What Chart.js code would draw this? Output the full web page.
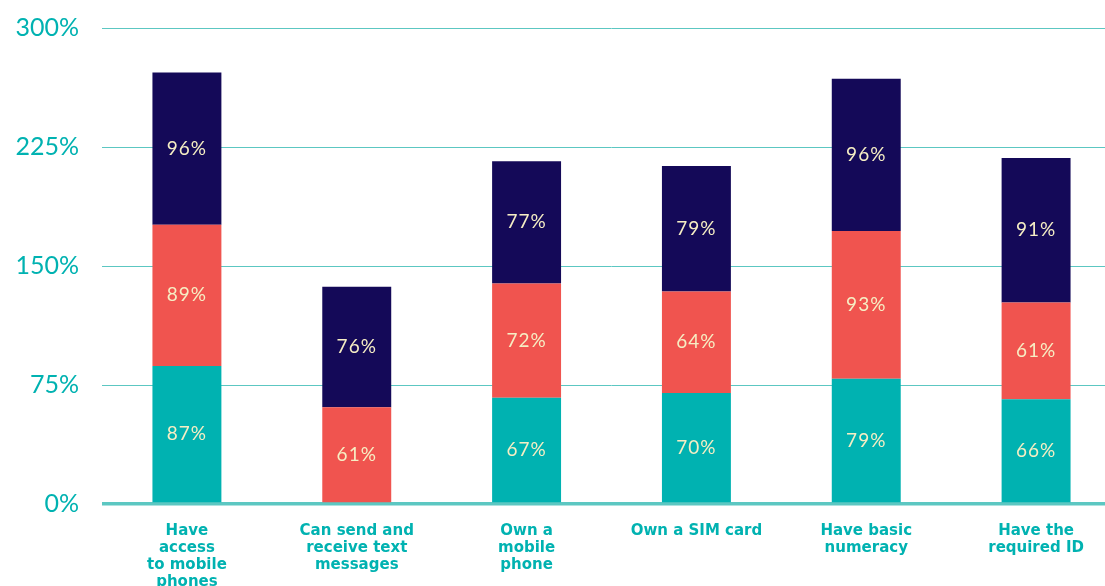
<!DOCTYPE html>
<html>
<head>
<meta charset="utf-8">
<script src="https://cdn.jsdelivr.net/npm/chart.js@4/dist/chart.umd.min.js"></script>
<style>
  html, body { margin: 0; padding: 0; background: #fff; overflow: hidden; }
  #wrap { width: 1121px; height: 586px; }
</style>
</head>
<body>
<div id="wrap"><canvas id="grafico"></canvas></div>
<script>
const categories = [
  ['Have', 'access', 'to mobile', 'phones'],
  ['Can send and', 'receive text', 'messages'],
  ['Own a', 'mobile', 'phone'],
  ['Own a SIM card'],
  ['Have basic', 'numeracy'],
  ['Have the', 'required ID']
];
const tealValues = [87, 0, 67, 70, 79, 66];
const redValues = [89, 61, 72, 64, 93, 61];
const navyValues = [96, 76, 77, 79, 96, 91];
const yTicks = [0, 75, 150, 225, 300];

const TEAL = '#00b2b1';
const RED = '#f0544f';
const NAVY = '#140958';
const CREAM = '#f6eec4';

// draws the % value in the middle of each segment
const barLabels = {
  id: 'barLabels',
  afterDatasetsDraw(chart) {
    const ctx = chart.ctx;
    ctx.save();
    ctx.font = '19px Lato';
    ctx.letterSpacing = '1px';
    ctx.fillStyle = CREAM;
    ctx.textAlign = 'center';
    ctx.textBaseline = 'middle';
    chart.data.datasets.forEach((ds, i) => {
      chart.getDatasetMeta(i).data.forEach((bar, j) => {
        const v = ds.data[j];
        if (!v) return;
        const mid = (bar.y + bar.base) / 2;
        ctx.fillText(v + '%', bar.x, mid);
      });
    });
    ctx.restore();
  }
};

new Chart(document.getElementById('grafico'), {
  type: 'bar',
  data: {
    labels: categories,
    datasets: [
      { label: 'A', data: tealValues, backgroundColor: TEAL },
      { label: 'B', data: redValues, backgroundColor: RED },
      { label: 'C', data: navyValues, backgroundColor: NAVY }
    ]
  },
  options: {
    responsive: true,
    maintainAspectRatio: false,
    animation: false,
    datasets: { bar: { barPercentage: 0.406, categoryPercentage: 1 } },
    layout: { padding: { top: 28, left: 0, right: 0, bottom: 0 } },
    plugins: {
      legend: { display: false },
      tooltip: { enabled: false }
    },
    scales: {
      x: {
        stacked: true,
        grid: { display: false },
        border: { display: false },
        ticks: {
          color: TEAL,
          font: { family: 'DejaVu Sans', size: 15, weight: 'bold', lineHeight: 1.13 },
          padding: 11,
          maxRotation: 0,
          autoSkip: false
        },
        afterFit(scale) { scale.height = 82; }
      },
      y: {
        stacked: true,
        min: 0,
        max: 300,
        afterBuildTicks(scale) { scale.ticks = yTicks.map(v => ({ value: v })); },
        grid: {
          color: '#5cc7c2',
          lineWidth: c => (c.tick && c.tick.value === 0 ? 3.5 : 1),
          drawTicks: false,
          z: -1
        },
        border: { display: false },
        ticks: {
          color: TEAL,
          font: { family: 'Lato', size: 25 },
          padding: 23,
          callback: v => v + '%'
        },
        afterFit(scale) {
          scale.width = 102;
          scale.paddingTop = 0;
          scale.paddingBottom = 0;
        }
      }
    }
  },
  plugins: [barLabels]
});
</script>
</body>
</html>
